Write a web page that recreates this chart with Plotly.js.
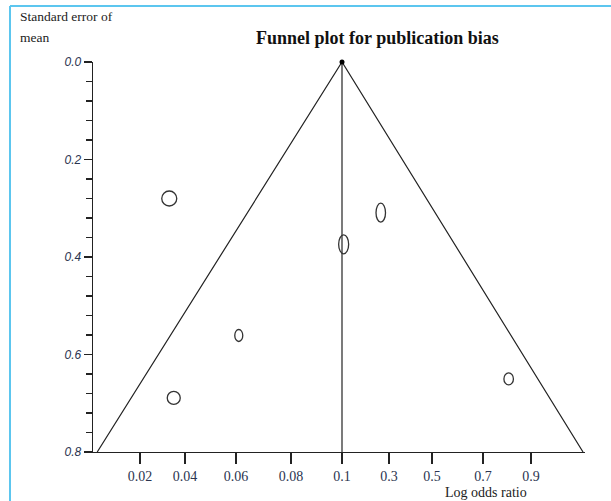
<!DOCTYPE html>
<html>
<head>
<meta charset="utf-8">
<script src="https://cdn.plot.ly/plotly-3.0.1.min.js"></script>
<style>html,body{margin:0;padding:0;background:#fff;}#chart{width:611px;height:501px;}</style>
</head>
<body>
<div id="chart"></div>
<script>
// ---- data ----
const tickValues = [0.02, 0.04, 0.06, 0.08, 0.1, 0.3, 0.5, 0.7, 0.9];
const tickLabels = ['0.02', '0.04', '0.06', '0.08', '0.1', '0.3', '0.5', '0.7', '0.9'];
// visual position of each tick label along the (broken) horizontal axis, axis units 0..10
const tickPositions = [0.955, 1.870, 2.907, 4.024, 5.061, 6.016, 6.890, 7.927, 8.902];

const studyLogOR = [0.033, 0.107, 0.265, 0.061, 0.807, 0.035];
const studySE    = [0.280, 0.374, 0.309, 0.561, 0.650, 0.689];

const funnelLogOR = [0.001, 0.1, 1.117];
const funnelSE    = [0.8, 0.0, 0.8];
const pooledLogOR = 0.1;

// marker (ellipse) sizes in pixels - style only
const markerW = [15, 10, 9.5, 8, 9.5, 13];
const markerH = [15, 19, 19, 12, 12, 13];

// piecewise mapping of log odds ratio onto the drawn axis
function toPos(v) {
  const n = tickValues.length;
  let i = 0;
  if (v <= tickValues[0]) i = 0;
  else if (v >= tickValues[n - 1]) i = n - 2;
  else { while (!(v >= tickValues[i] && v <= tickValues[i + 1])) i++; }
  const t = (v - tickValues[i]) / (tickValues[i + 1] - tickValues[i]);
  return tickPositions[i] + t * (tickPositions[i + 1] - tickPositions[i]);
}

const lineCol = '#222222';
const txtCol = '#2b3550';
const serif = 'Liberation Serif, Times New Roman, serif';

const traces = [
  {
    x: funnelLogOR.map(toPos), y: funnelSE, mode: 'lines', type: 'scatter',
    line: {color: lineCol, width: 1.2}, hoverinfo: 'skip', showlegend: false
  },
  {
    x: [toPos(pooledLogOR), toPos(pooledLogOR)], y: [0, 0.8], mode: 'lines', type: 'scatter',
    line: {color: lineCol, width: 1.2}, hoverinfo: 'skip', showlegend: false
  },
  {
    x: [toPos(pooledLogOR)], y: [0], mode: 'markers', type: 'scatter', cliponaxis: false,
    marker: {color: '#000', size: 5}, hoverinfo: 'skip', showlegend: false
  },
  {
    x: studyLogOR.map(toPos), y: studySE, mode: 'markers', type: 'scatter',
    marker: {color: 'rgba(0,0,0,0)', size: 12},
    text: studyLogOR.map((v, i) => 'log OR ' + v + ', SE ' + studySE[i]),
    hoverinfo: 'text', showlegend: false
  }
];

const shapes = studyLogOR.map((v, i) => ({
  type: 'circle', xref: 'x', yref: 'y',
  xsizemode: 'pixel', ysizemode: 'pixel',
  xanchor: toPos(v), yanchor: studySE[i],
  x0: -markerW[i] / 2, x1: markerW[i] / 2,
  y0: -markerH[i] / 2, y1: markerH[i] / 2,
  line: {color: '#333', width: 1.3}
}));
// light blue frame (top and left)
shapes.push({type: 'line', xref: 'paper', yref: 'paper', x0: -0.1687, x1: 1.06, y0: 1.1436, y1: 1.1436,
  line: {color: '#5cc6ef', width: 2}});
shapes.push({type: 'line', xref: 'paper', yref: 'paper', x0: -0.1687, x1: -0.1687, y0: 1.1436, y1: -0.14,
  line: {color: '#5cc6ef', width: 2}});

const layout = {
  width: 611, height: 501,
  margin: {l: 93, r: 26, t: 62, b: 49},
  paper_bgcolor: '#fff', plot_bgcolor: '#fff',
  showlegend: false,
  title: {
    text: '<b>Funnel plot for publication bias</b>',
    font: {family: serif, size: 18, color: '#111'},
    xref: 'paper', x: 0.578, xanchor: 'center',
    yref: 'container', y: 0.924, yanchor: 'middle'
  },
  xaxis: {
    range: [0, 10], showgrid: false, zeroline: false,
    showline: true, linecolor: lineCol, linewidth: 1.3,
    ticks: 'outside', ticklen: 11, tickcolor: lineCol, tickwidth: 1.3,
    tickmode: 'array', tickvals: tickPositions, ticktext: tickLabels,
    tickfont: {family: serif, size: 14, color: txtCol}
  },
  yaxis: {
    range: [0.8, 0], showgrid: false, zeroline: false,
    showline: true, linecolor: lineCol, linewidth: 1.3,
    ticks: 'outside', ticklen: 8, tickcolor: lineCol, tickwidth: 1.3,
    dtick: 0.2, tick0: 0, tickformat: '.1f',
    minor: {dtick: 0.04, tick0: 0, ticks: 'outside', ticklen: 6, tickcolor: lineCol, tickwidth: 1.3},
    tickfont: {family: 'Liberation Sans, Arial, sans-serif', size: 12, color: txtCol, style: 'italic'}
  },
  shapes: shapes,
  annotations: [
    {text: 'Standard error of', xref: 'paper', yref: 'paper', x: -0.152, y: 1.116,
      xanchor: 'left', yanchor: 'middle', showarrow: false,
      font: {family: serif, size: 13.5, color: '#222'}},
    {text: 'mean', xref: 'paper', yref: 'paper', x: -0.152, y: 1.064,
      xanchor: 'left', yanchor: 'middle', showarrow: false,
      font: {family: serif, size: 13.5, color: '#222'}},
    {text: 'Log odds ratio', xref: 'paper', yref: 'paper', x: 0.798, y: -0.1026,
      xanchor: 'center', yanchor: 'middle', showarrow: false,
      font: {family: serif, size: 14, color: '#222'}}
  ]
};

Plotly.newPlot('chart', traces, layout, {displayModeBar: false, staticPlot: true});
</script>
</body>
</html>
